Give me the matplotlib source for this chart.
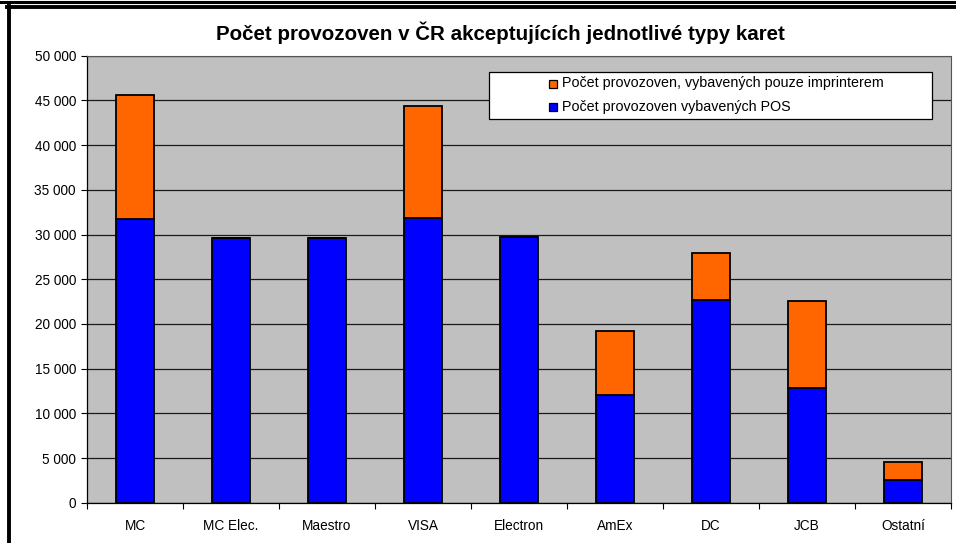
import matplotlib
matplotlib.use("Agg")
import numpy as np
import matplotlib.pyplot as plt
from matplotlib.patches import Rectangle
from matplotlib.lines import Line2D
from matplotlib.ticker import FuncFormatter, MultipleLocator

plt.rcParams['font.family'] = ['Liberation Sans', 'DejaVu Sans']

# Data
categories = ['MC', 'MC Elec.', 'Maestro', 'VISA', 'Electron', 'AmEx', 'DC', 'JCB', 'Ostatní']
pos_counts = [31700, 29600, 29600, 31850, 29700, 12000, 22700, 12800, 2500]
totals = [45600, 29600, 29600, 44400, 29700, 19200, 27900, 22600, 4600]
imprinter_only = [t - p for t, p in zip(totals, pos_counts)]

label_pos = 'Počet provozoven vybavených POS'
label_imp = 'Počet provozoven, vybavených pouze imprinterem'
title = 'Počet provozoven v ČR akceptujících jednotlivé typy karet'

BLUE = '#0000FF'
ORANGE = '#FF6600'
GRAY = '#C0C0C0'

W, H = 956, 543
fig = plt.figure(figsize=(W / 100, H / 100), dpi=100)
ax = fig.add_axes([87 / W, 40.3 / H, (951 - 87) / W, (502.7 - 55.7) / H])
ax.set_facecolor(GRAY)

x = np.arange(len(categories))
ax.bar(x, pos_counts, width=0.4, color=BLUE, edgecolor='black', linewidth=1.3, zorder=3)
ax.bar(x, imprinter_only, width=0.4, bottom=pos_counts, color=ORANGE,
       edgecolor='black', linewidth=1.3, zorder=3)

ax.set_xlim(-0.5, len(categories) - 0.5)
ax.set_ylim(0, 50000)
ax.yaxis.set_major_locator(MultipleLocator(5000))
ax.yaxis.set_major_formatter(FuncFormatter(lambda v, p: f"{int(v):,}".replace(',', ' ')))
ax.grid(axis='y', color='#1a1a1a', linewidth=0.9, zorder=1)
ax.set_axisbelow(True)

# category ticks at boundaries, labels centered
ax.set_xticks(np.arange(-0.5, len(categories) + 0.5, 1))
ax.set_xticklabels([])
ax.set_xticks(x, minor=True)
ax.set_xticklabels(categories, minor=True)
ax.tick_params(axis='x', which='major', length=4, width=0.8, direction='out')
ax.tick_params(axis='x', which='minor', length=0, pad=12, labelsize=9.8)
ax.tick_params(axis='y', length=4, width=0.8, direction='out', pad=4, labelsize=9.8)

for s in ['left', 'bottom']:
    ax.spines[s].set_color('black')
    ax.spines[s].set_linewidth(0.9)
for s in ['top', 'right']:
    ax.spines[s].set_color('#555555')
    ax.spines[s].set_linewidth(0.8)

fig.text(500 / W, 1 - 33 / H, title, ha='center', va='center',
         fontsize=14.8, fontweight='bold')

# legend box
fig.patches.append(Rectangle((489 / W, 1 - 119 / H), 443 / W, 47 / H,
                             transform=fig.transFigure, facecolor='white',
                             edgecolor='black', linewidth=0.9, zorder=5))
for yc, col, lab in [(83.5, ORANGE, label_imp), (106.5, BLUE, label_pos)]:
    fig.patches.append(Rectangle((549 / W, 1 - (yc + 4) / H), 8 / W, 8 / H,
                                 transform=fig.transFigure, facecolor=col,
                                 edgecolor='black', linewidth=0.9, zorder=6))
    fig.text(562 / W, 1 - yc / H, lab, ha='left', va='center', fontsize=10.3, zorder=7)

# outer frame
fig.add_artist(Line2D([0, 1], [1 - 1.5 / H, 1 - 1.5 / H], color='black', linewidth=2.2,
                      transform=fig.transFigure))
fig.add_artist(Line2D([7 / W, 1], [1 - 7 / H, 1 - 7 / H], color='black', linewidth=2.8,
                      transform=fig.transFigure))
fig.add_artist(Line2D([8.5 / W, 8.5 / W], [0, 1 - 5.5 / H], color='black', linewidth=2.8,
                      transform=fig.transFigure))

fig.savefig('out.png', dpi=100)
